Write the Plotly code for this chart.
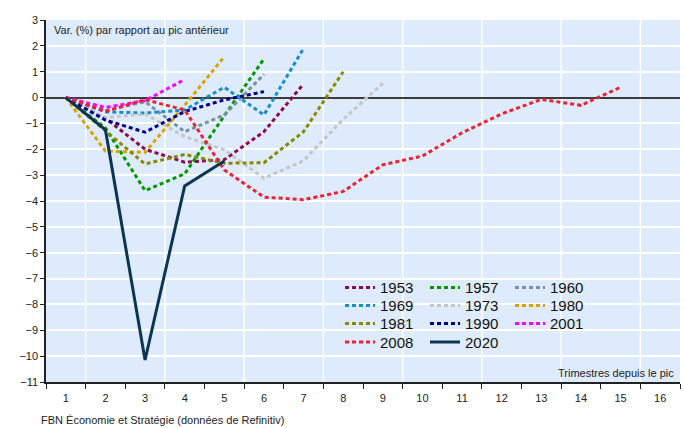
import plotly.graph_objects as go

quarters = list(range(1, 17))
tick_labels = [str(q) for q in quarters]

s1953 = [0, -0.8, -2.0, -2.5, -2.4, -1.32, 0.53]
s1957 = [0, -1.18, -3.6, -2.95, -0.7, 1.5]
s1960 = [0, -0.5, -0.16, -1.32, -0.67, 0.9]
s1969 = [0, -0.55, -0.6, -0.48, 0.4, -0.67, 1.9]
s1973 = [0, -0.78, -0.63, -1.51, -2.02, -3.12, -2.44, -0.84, 0.55]
s1980 = [0, -2.07, -2.12, -0.3, 1.58]
s1981 = [0, -1.3, -2.57, -2.2, -2.54, -2.52, -1.32, 1.0]
s1990 = [0, -0.87, -1.34, -0.54, -0.09, 0.23]
s2001 = [0, -0.38, -0.12, 0.7]
s2008 = [0, -0.54, -0.08, -0.48, -2.8, -3.85, -3.95, -3.63, -2.6, -2.26, -1.36, -0.63, -0.07, -0.3, 0.4]
s2020 = [0, -1.25, -10.15, -3.42, -2.45]

series = [
    ("1953", s1953, "#8b0a50", "legend"),
    ("1957", s1957, "#009a00", "legend"),
    ("1960", s1960, "#7593a0", "legend"),
    ("1969", s1969, "#1490d0", "legend2"),
    ("1973", s1973, "#c6c6c6", "legend2"),
    ("1980", s1980, "#d9a300", "legend2"),
    ("1981", s1981, "#878700", "legend3"),
    ("1990", s1990, "#00008c", "legend3"),
    ("2001", s2001, "#ff00ff", "legend3"),
    ("2008", s2008, "#ee2233", "legend4"),
]

FONT = "Liberation Sans, Arial, sans-serif"
fig = go.Figure()
for name, vals, col, lg in series:
    fig.add_trace(go.Scatter(
        x=quarters[:len(vals)], y=vals, mode="lines", name=name,
        line=dict(color=col, width=3, dash="4px,3px"), legend=lg))
fig.add_trace(go.Scatter(
    x=quarters[:len(s2020)], y=s2020, mode="lines", name="2020",
    line=dict(color="#0b3550", width=3), legend="legend4"))

# vertical grid every two quarters at boundaries
for b in range(1, 16, 2):
    fig.add_shape(type="line", xref="x", yref="paper", x0=b + 0.5, x1=b + 0.5,
                  y0=0, y1=1, line=dict(color="white", width=1.5), layer="below")

top = 20
bot = 382
def ypaper(py):
    return (bot - py) / (bot - top)

leg_common = dict(orientation="h", xanchor="left", yanchor="middle",
                  bgcolor="rgba(0,0,0,0)", font=dict(family=FONT, size=15, color="#111"),
                  entrywidth=40, entrywidthmode="pixels", itemwidth=30,
                  tracegroupgap=0)
rows = [287.7, 305.7, 323.7, 342.3]
xl = (340 - 46) / (680 - 46)

fig.update_layout(
    width=684, height=428,
    margin=dict(l=46, r=4, t=top, b=428 - bot),
    paper_bgcolor="white", plot_bgcolor="#deebfc",
    font=dict(family=FONT, size=11, color="#222"),
    legend=dict(x=xl, y=ypaper(rows[0]), **leg_common),
    legend2=dict(x=xl, y=ypaper(rows[1]), **leg_common),
    legend3=dict(x=xl, y=ypaper(rows[2]), **leg_common),
    legend4=dict(x=xl, y=ypaper(rows[3]), **leg_common),
    xaxis=dict(range=[0.5, 16.5], tickvals=quarters, ticktext=tick_labels,
               ticks="outside", ticklen=5, tickcolor="rgba(0,0,0,0)",
               showgrid=False, zeroline=False,
               showline=True, linecolor="#222", linewidth=1.5,
               tickfont=dict(family=FONT, size=11, color="#222"),
               minor=dict(tick0=0.5, dtick=1, ticks="outside", ticklen=5,
                          tickcolor="#222", showgrid=False)),
    yaxis=dict(range=[-11, 3], dtick=1, tick0=0,
               ticks="outside", ticklen=4, tickcolor="#222",
               showgrid=True, gridcolor="white", gridwidth=1.5,
               zeroline=True, zerolinecolor="#3c3c3c", zerolinewidth=1.5,
               showline=True, linecolor="#222", linewidth=1.5,
               tickfont=dict(family=FONT, size=11, color="#222")),
    annotations=[
        dict(text="Var. (%) par rapport au pic antérieur", xref="paper", yref="paper",
             x=0.01, y=0.995, xanchor="left", yanchor="top", showarrow=False,
             font=dict(family=FONT, size=11, color="#222")),
        dict(text="Trimestres depuis le pic", xref="paper", yref="paper",
             x=0.994, y=0.003, xanchor="right", yanchor="bottom", showarrow=False,
             font=dict(family=FONT, size=11, color="#222")),
        dict(text="FBN Économie et Stratégie (données de Refinitiv)", xref="paper", yref="paper",
             x=-0.011, y=-0.105, xanchor="left", yanchor="middle", showarrow=False,
             font=dict(family=FONT, size=11, color="#222")),
    ],
)

fig.write_html("out.html", config={"displayModeBar": False},
               post_script="document.body.style.margin='0';document.body.style.overflow='hidden';")
